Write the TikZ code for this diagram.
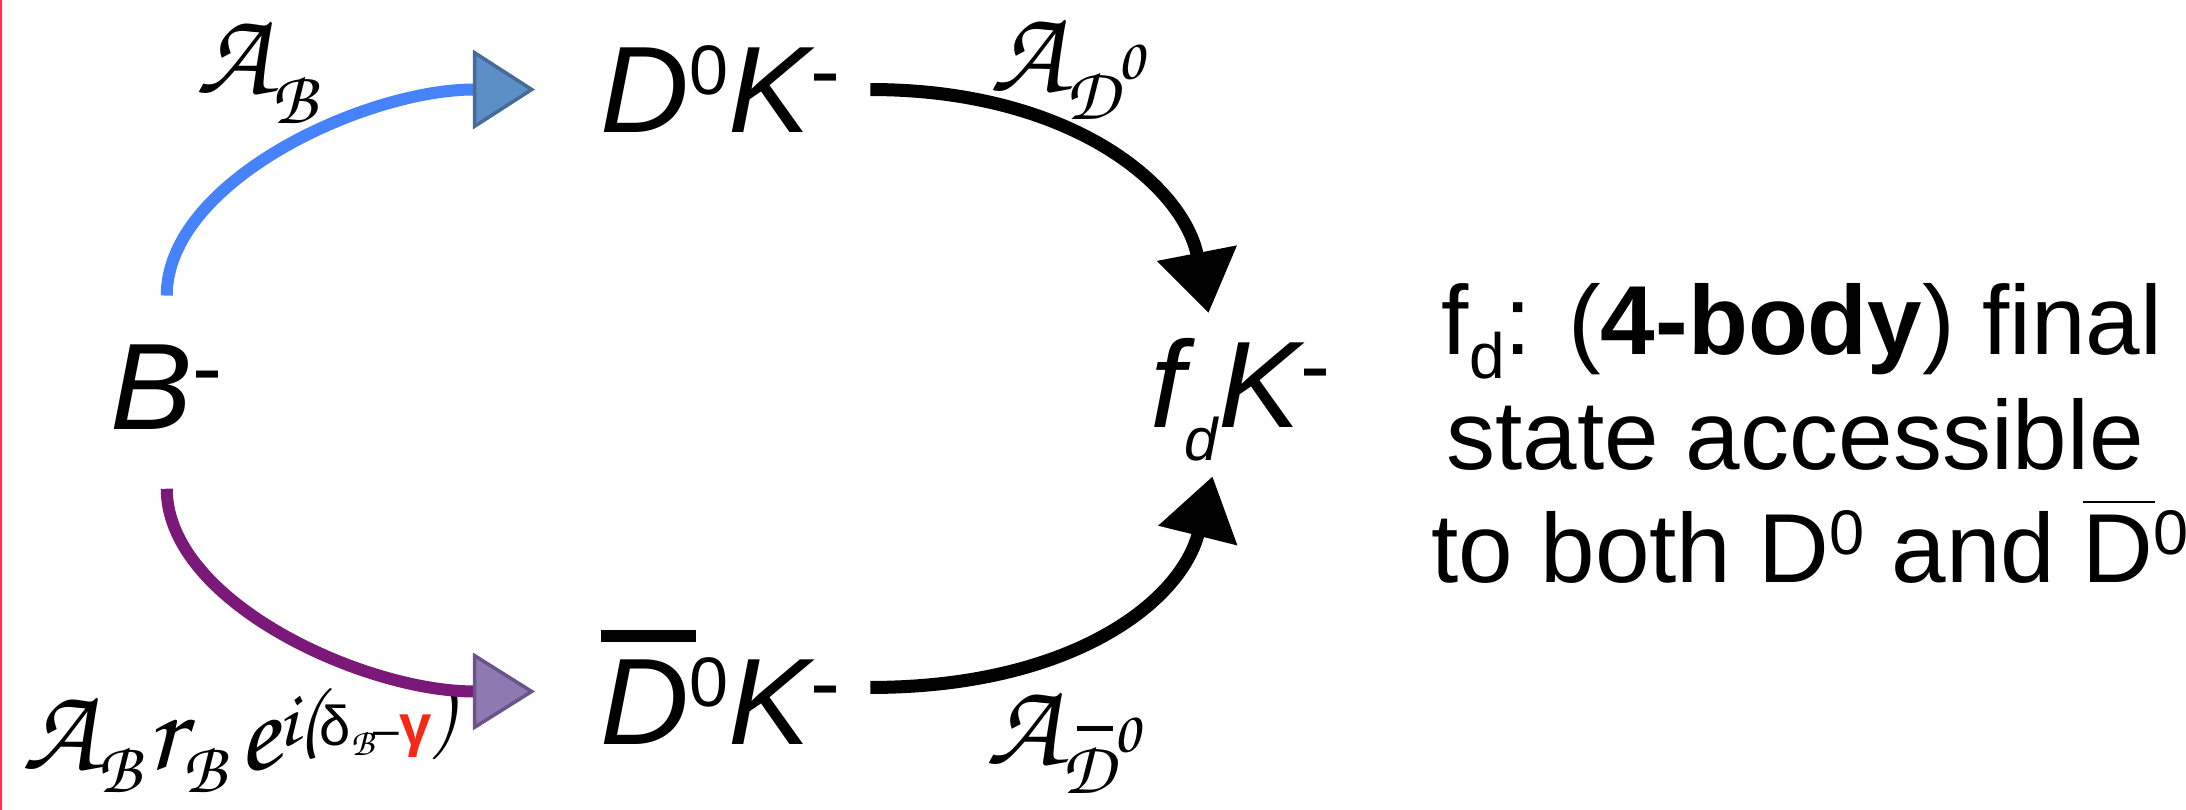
\documentclass[tikz,border=0pt]{standalone}
\usepackage[T1]{fontenc}
\usepackage{fontspec}
\setmainfont{Liberation Sans}
\usetikzlibrary{arrows.meta}

\definecolor{arcblue}{RGB}{70,130,250}
\definecolor{tipblue}{RGB}{91,143,197}
\definecolor{tipblueedge}{RGB}{72,106,150}
\definecolor{arcpurple}{RGB}{122,25,120}
\definecolor{tippurple}{RGB}{142,122,176}
\definecolor{tippurpleedge}{RGB}{105,85,140}
\definecolor{gred}{RGB}{245,40,20}
\definecolor{edgered}{RGB}{255,50,80}

% chancery letters for the amplitudes
\newcommand{\chanc}[2]{{\fontencoding{T1}\fontfamily{pzc}\fontseries{mb}\fontshape{it}\fontsize{#1}{#1}\selectfont #2}}
\newcommand{\hi}[1]{\raisebox{0.38cm}{\fontsize{0.7cm}{0.7cm}\selectfont\upshape #1}}
\newcommand{\chg}{\raisebox{0.31cm}{\fontsize{0.9cm}{0.9cm}\selectfont\upshape -}}

\begin{document}
\begin{tikzpicture}[x=0.01cm, y=0.01cm,
  lbl/.style={inner sep=0pt, anchor=base west, font=\fontsize{1.23cm}{1.4cm}\selectfont\itshape},
  amp/.style={inner sep=0pt, anchor=base west},
  note/.style={inner sep=0pt, anchor=base, font=\fontsize{0.98cm}{1.14cm}\selectfont},
  arc/.style={line width=0.12cm},
  flow/.style={line width=0.13cm, -{Triangle[length=0.61cm, width=0.78cm]}}]
  \useasboundingbox (0,0) rectangle (2186,810);
  \draw[edgered, line width=0.025cm] (1,0) -- (1,810);

  % states
  \node[lbl] (b) at (110,380) {B\chg};
  \node[lbl] (dk) at (600,677) {D\hi{0}K\chg};
  \node[lbl] (dbk) at (600,65) {\rlap{\raisebox{1.03cm}{\rule{0.95cm}{0.12cm}}}D\hi{0}K\chg};
  \node[lbl] (fk) at (1150,382) {f\raisebox{-0.32cm}{\fontsize{0.6cm}{0.6cm}\selectfont d}K\chg};

  % amplitudes
  \node[amp] (ab) at (196,716) {\chanc{1.2cm}{A}\raisebox{-0.3cm}{\chanc{0.75cm}{B}}};
  \node[amp] (ad) at (990,718) {\chanc{1.2cm}{A}\raisebox{-0.28cm}{\chanc{0.75cm}{D}}\raisebox{0.12cm}{\chanc{0.6cm}{0}}};
  \node[amp] (adb) at (986,45) {\chanc{1.2cm}{A}\raisebox{-0.28cm}{\rlap{\hspace{0.16cm}\raisebox{0.62cm}{\rule{0.36cm}{0.05cm}}}\chanc{0.75cm}{D}}\raisebox{0.12cm}{\chanc{0.6cm}{0}}};
  \node[amp] (abr) at (22,40) {\chanc{1.2cm}{A}\raisebox{-0.22cm}{\chanc{0.72cm}{B}}\hspace{0.06cm}\chanc{1.2cm}{r}\raisebox{-0.22cm}{\chanc{0.72cm}{B}}\hspace{0.12cm}\chanc{1.2cm}{e}\raisebox{0.24cm}{\chanc{0.8cm}{i}\chanc{0.85cm}{(}{\fontsize{0.56cm}{0.56cm}\selectfont δ\raisebox{-0.1cm}{\chanc{0.38cm}{B}}{\fontsize{0.46cm}{0.46cm}\selectfont –}\textcolor{gred}{\bfseries\fontsize{0.58cm}{0.58cm}\selectfont γ}}\chanc{0.85cm}{)}}};

  % explanation
  \node[note] (t1) at (1802,455) {f\raisebox{-0.23cm}{\fontsize{0.64cm}{0.64cm}\selectfont d}: (\textbf{4-body}) final};
  \node[note] (t2) at (1795,340) {state accessible};
  \node[note] (t3) at (1810,227) {to both D\raisebox{0.28cm}{\fontsize{0.63cm}{0.63cm}\selectfont 0} and \rlap{\raisebox{0.8cm}{\rule{0.72cm}{0.02cm}}}D\raisebox{0.28cm}{\fontsize{0.63cm}{0.63cm}\selectfont 0}};

  % decays
  \draw[arc, arcblue, -{Triangle[length=0.62cm, width=0.79cm, fill=tipblue, color=tipblueedge, line width=1pt]}]
    ([yshift=0.49cm]b.north) to[out=90, in=180, out distance=1.14cm, in distance=1.7cm] ([xshift=-0.65cm]dk.west);
  \draw[arc, arcpurple, -{Triangle[length=0.62cm, width=0.77cm, fill=tippurple, color=tippurpleedge, line width=1pt]}]
    ([yshift=-0.58cm]b.south) to[out=-90, in=180, out distance=1.13cm, in distance=1.71cm] ([xshift=-0.65cm, yshift=-0.04cm]dbk.west);
  \draw[flow] ([xshift=0.29cm]dk.east) to[out=0, in=101, out distance=2cm, in distance=1.3cm] ([xshift=-0.32cm, yshift=0.25cm]fk.north);
  \draw[flow] ([xshift=0.29cm]dbk.east) to[out=0, in=-104, out distance=2cm, in distance=1.3cm] ([xshift=-0.28cm, yshift=-0.15cm]fk.south);
\end{tikzpicture}
\end{document}
